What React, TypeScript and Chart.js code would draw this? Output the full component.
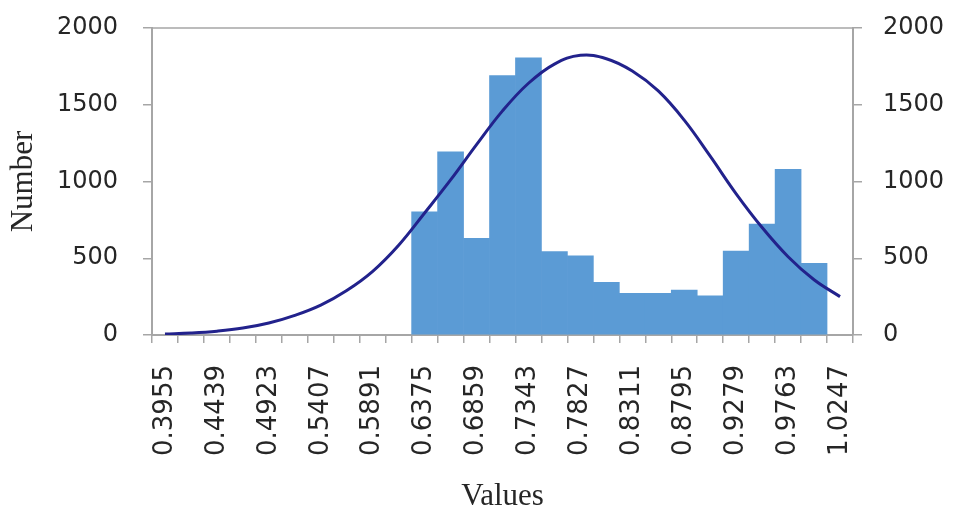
import React, { useEffect, useRef } from "react";
import { Chart, registerables } from "chart.js";

Chart.register(...registerables);

const categories = [
  "0.3955", "0.4197", "0.4439", "0.4681", "0.4923", "0.5165", "0.5407", "0.5649", "0.5891",
  "0.6133", "0.6375", "0.6617", "0.6859", "0.7101", "0.7343", "0.7585", "0.7827", "0.8069",
  "0.8311", "0.8553", "0.8795", "0.9037", "0.9279", "0.9521", "0.9763", "1.0005", "1.0247",
];

// only every other category label is shown on the axis
const shownLabels = [
  "0.3955", "", "0.4439", "", "0.4923", "", "0.5407", "", "0.5891",
  "", "0.6375", "", "0.6859", "", "0.7343", "", "0.7827", "",
  "0.8311", "", "0.8795", "", "0.9279", "", "0.9763", "", "1.0247",
];

const histogramCounts = [
  null, null, null, null, null, null, null, null, null, null,
  803, 1194, 630, 1690, 1805, 543, 515, 343, 272, 272, 293, 255, 547, 722, 1079, 467,
  null,
];

const normalCurve = [
  6, 13, 25, 45, 78, 128, 195, 290, 415, 585, 795, 1010, 1240, 1460, 1640, 1765, 1822,
  1800, 1720, 1590, 1400, 1165, 920, 700, 510, 360, 250,
];

const yTicks = [0, 500, 1000, 1500, 2000];

const AXIS_GRAY = "#A6A6A6";
const TEXT = "#262626";

const topBorder = {
  id: "topBorder",
  afterDraw(chart: any) {
    const { ctx, chartArea } = chart;
    ctx.save();
    ctx.strokeStyle = AXIS_GRAY;
    ctx.lineWidth = 1.5;
    ctx.beginPath();
    ctx.moveTo(chartArea.left, chartArea.top);
    ctx.lineTo(chartArea.right, chartArea.top);
    ctx.stroke();
    ctx.restore();
  },
};

export default function App() {
  const ref = useRef<HTMLCanvasElement | null>(null);

  useEffect(() => {
    if (!ref.current) return;
    const yTickFont = { family: "DejaVu Sans", size: 24 };
    const fmt = (v: any) => String(v);
    const chart = new Chart(ref.current, {
      type: "bar",
      data: {
        labels: categories,
        datasets: [
          {
            type: "line",
            data: normalCurve,
            borderColor: "#22228C",
            borderWidth: 3,
            pointRadius: 0,
            tension: 0.4,
            fill: false,
            order: 0,
            yAxisID: "y",
          } as any,
          {
            type: "bar",
            data: histogramCounts,
            backgroundColor: "#5B9BD5",
            borderWidth: 0,
            barPercentage: 1,
            categoryPercentage: 1,
            order: 1,
            yAxisID: "y",
          },
        ],
      },
      options: {
        responsive: false,
        animation: false,
        layout: { padding: { top: 28, left: 0, right: 0, bottom: 0 } },
        plugins: { legend: { display: false }, tooltip: { enabled: false } },
        scales: {
          x: {
            type: "category",
            offset: true,
            grid: {
              offset: true,
              drawOnChartArea: false,
              drawTicks: true,
              tickLength: 8,
              color: AXIS_GRAY,
              lineWidth: 1.5,
            },
            border: { display: true, color: AXIS_GRAY, width: 2 },
            ticks: {
              autoSkip: false,
              maxRotation: 90,
              minRotation: 90,
              padding: 22,
              color: TEXT,
              font: { family: "DejaVu Sans", size: 26 },
              callback: (_v: any, i: number) => shownLabels[i],
            },
            title: {
              display: true,
              text: "Values",
              color: TEXT,
              font: { family: "Liberation Serif", size: 31, lineHeight: 1 },
              padding: { top: 0, bottom: 0 },
            },
            afterFit: (s: any) => {
              s.height = 512 - 335;
              s.paddingLeft = 0;
              s.paddingRight = 0;
            },
          },
          y: {
            position: "left",
            min: 0,
            max: 2000,
            afterBuildTicks: (s: any) => {
              s.ticks = yTicks.map((v) => ({ value: v }));
            },
            grid: {
              drawOnChartArea: false,
              drawTicks: true,
              tickLength: 9,
              color: AXIS_GRAY,
              lineWidth: 1.5,
            },
            border: { display: true, color: AXIS_GRAY, width: 2 },
            ticks: { padding: 25, color: TEXT, font: yTickFont, callback: fmt },
            title: {
              display: true,
              text: "Number",
              color: TEXT,
              font: { family: "Liberation Serif", size: 31, lineHeight: 1 },
              padding: { top: 8, bottom: 0 },
            },
            afterFit: (s: any) => {
              s.width = 152;
              s.paddingTop = 0;
              s.paddingBottom = 0;
            },
          },
          y2: {
            position: "right",
            min: 0,
            max: 2000,
            afterBuildTicks: (s: any) => {
              s.ticks = yTicks.map((v) => ({ value: v }));
            },
            grid: {
              drawOnChartArea: false,
              drawTicks: true,
              tickLength: 9,
              color: AXIS_GRAY,
              lineWidth: 1.5,
            },
            border: { display: true, color: AXIS_GRAY, width: 2 },
            ticks: { padding: 21, color: TEXT, font: yTickFont, callback: fmt },
            afterFit: (s: any) => {
              s.width = 956 - 853;
              s.paddingTop = 0;
              s.paddingBottom = 0;
            },
          },
        },
      },
      plugins: [topBorder],
    } as any);
    return () => chart.destroy();
  }, []);

  return (
    <div style={{ position: "absolute", left: 0, top: 0, width: 956, height: 512, background: "#fff" }}>
      <canvas ref={ref} width={956} height={512} />
    </div>
  );
}
